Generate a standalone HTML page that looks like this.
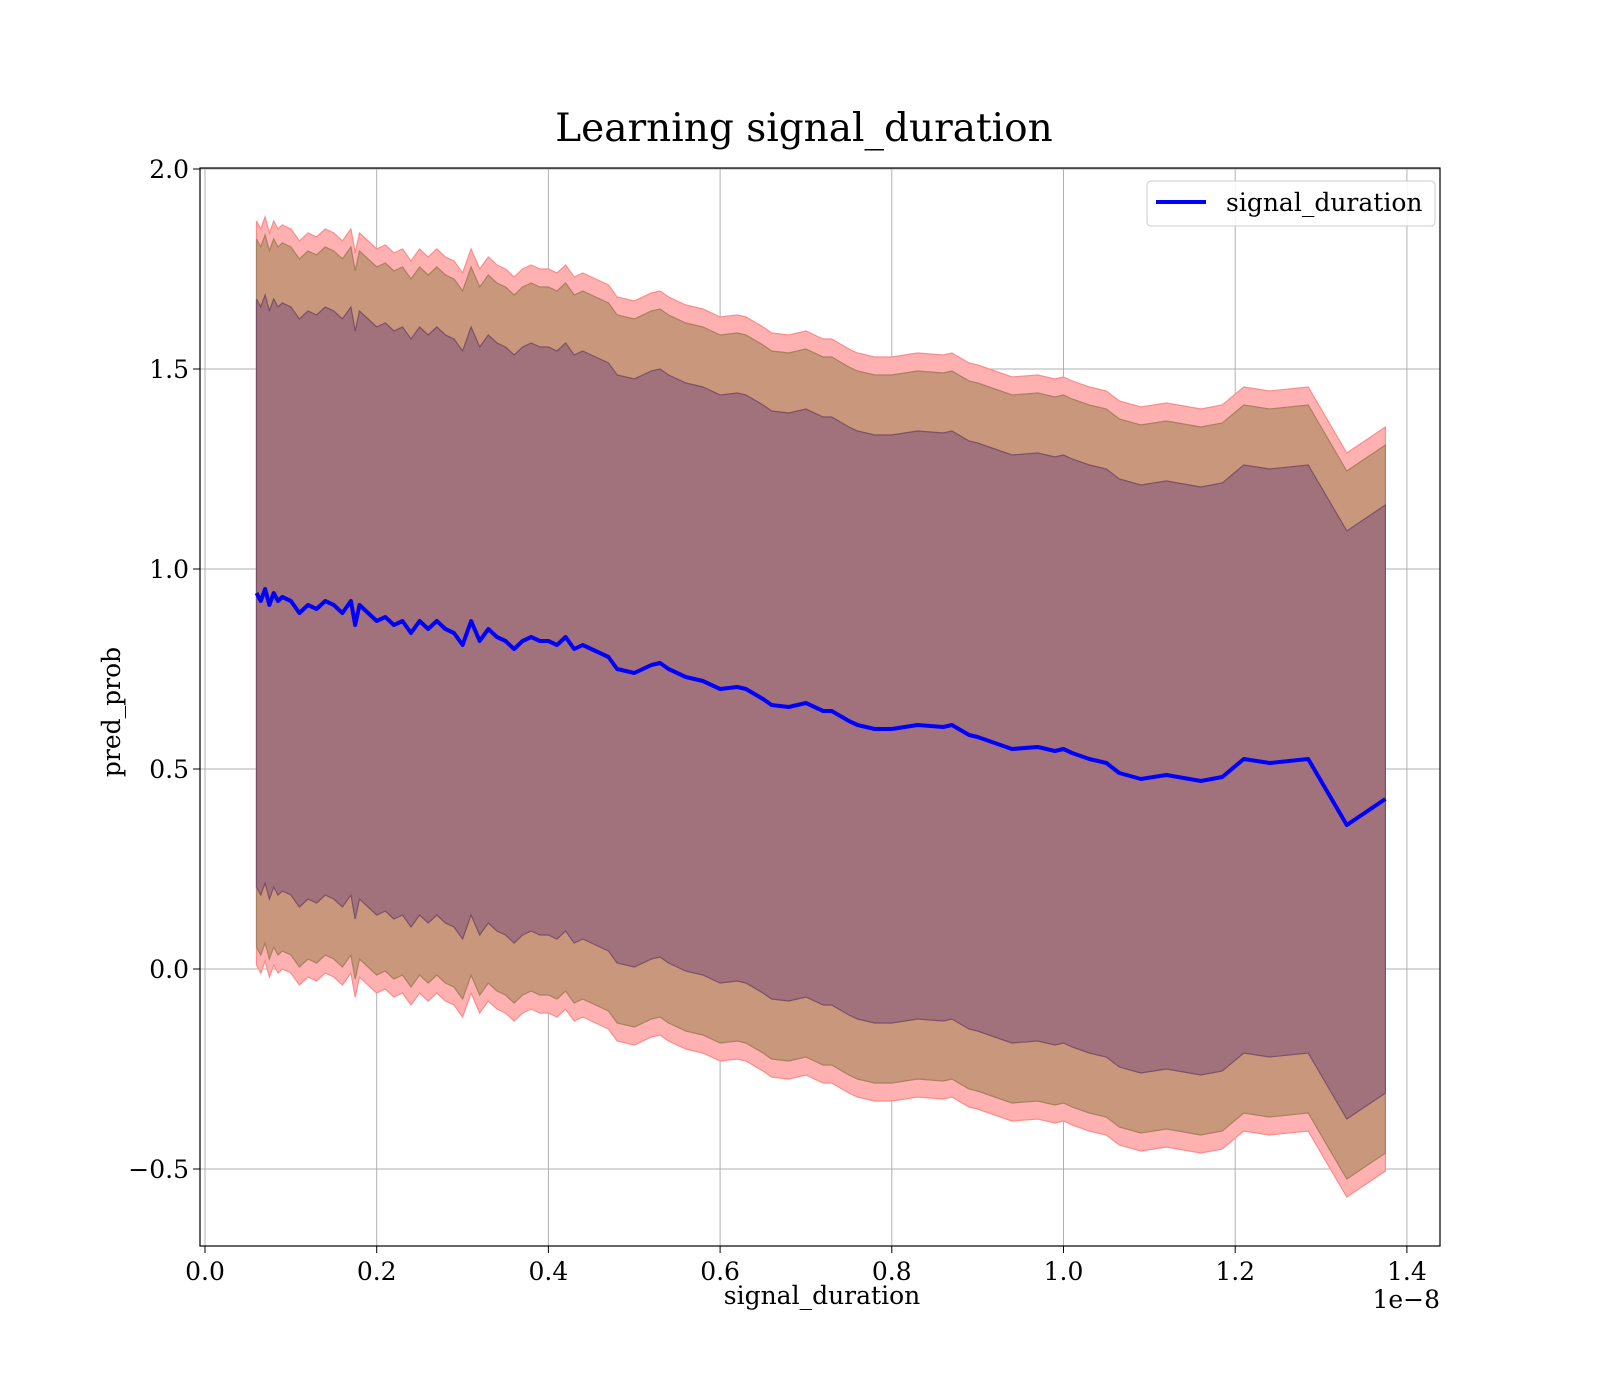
<!DOCTYPE html>
<html><head><meta charset="utf-8"><style>
body{margin:0;background:#fff}
svg{display:block;font-family:"DejaVu Serif","Liberation Serif",serif}
</style></head><body>
<svg id="chart" width="1600" height="1400">
<text x="804" y="141" font-size="39" text-anchor="middle">Learning signal_duration</text>
<g id="grid"></g>
<g id="bands"></g>
<g id="line"></g>
<rect x="200" y="168" width="1240" height="1078" fill="none" stroke="#000" stroke-width="1.2"/>
<g id="ticks"></g>
<text x="822" y="1304" font-size="25" text-anchor="middle">signal_duration</text>
<text x="1440" y="1308" font-size="25" text-anchor="end">1e−8</text>
<text transform="translate(120,712) rotate(-90)" font-size="25" text-anchor="middle">pred_prob</text>
<g>
<rect x="1147" y="181" width="288" height="45" rx="4" fill="#fff" fill-opacity="0.85" stroke="#ccc"/>
<line x1="1156" y1="202" x2="1206" y2="202" stroke="#0000ff" stroke-width="4"/>
<text x="1226" y="211" font-size="25">signal_duration</text>
</g>
</svg>
<script>
const xs=[0.06,0.065,0.07,0.075,0.08,0.085,0.09,0.1,0.11,0.12,0.13,0.14,0.15,0.16,0.17,0.175,0.18,0.19,0.2,0.21,0.22,0.23,0.24,0.25,0.26,0.27,0.28,0.29,0.3,0.31,0.32,0.33,0.34,0.35,0.36,0.37,0.38,0.39,0.4,0.41,0.42,0.43,0.44,0.45,0.46,0.47,0.48,0.5,0.52,0.53,0.54,0.56,0.58,0.6,0.62,0.63,0.65,0.66,0.68,0.7,0.72,0.73,0.75,0.76,0.78,0.8,0.83,0.86,0.87,0.89,0.9,0.92,0.94,0.97,0.99,1.0,1.01,1.03,1.05,1.065,1.09,1.12,1.16,1.185,1.21,1.24,1.285,1.33,1.375];
const means=[0.94,0.92,0.95,0.91,0.94,0.92,0.93,0.92,0.89,0.91,0.90,0.92,0.91,0.89,0.92,0.86,0.91,0.89,0.87,0.88,0.86,0.87,0.84,0.87,0.85,0.87,0.85,0.84,0.81,0.87,0.82,0.85,0.83,0.82,0.80,0.82,0.83,0.82,0.82,0.81,0.83,0.80,0.81,0.80,0.79,0.78,0.75,0.74,0.76,0.765,0.75,0.73,0.72,0.70,0.705,0.70,0.675,0.66,0.655,0.665,0.645,0.645,0.62,0.61,0.60,0.60,0.61,0.605,0.61,0.585,0.58,0.565,0.55,0.555,0.545,0.55,0.54,0.525,0.515,0.49,0.475,0.485,0.47,0.48,0.525,0.515,0.525,0.36,0.425];
const bandHalf=[0.93,0.885,0.735];
const bandColors=["#ffb1b1","#c9977b","#a1727c"];
const bandEdges=["#ff8a8a","#a88060","#7d5068"];
const xTicks=[0,0.2,0.4,0.6,0.8,1.0,1.2,1.4];
const xTickLabels=["0.0","0.2","0.4","0.6","0.8","1.0","1.2","1.4"];
const yTicks=[-0.5,0,0.5,1.0,1.5,2.0];
const yTickLabels=["−0.5","0.0","0.5","1.0","1.5","2.0"];
const NS="http://www.w3.org/2000/svg";
const X=v=>205+v*858.5, Y=v=>169+(2-v)*400;
function mk(tag,attrs,parent){const e=document.createElementNS(NS,tag);for(const k in attrs)e.setAttribute(k,attrs[k]);parent.appendChild(e);return e;}
const grid=document.getElementById('grid'),ticks=document.getElementById('ticks');
xTicks.forEach((t,i)=>{
 const g=mk('line',{x1:X(t),x2:X(t),y1:168,y2:1246,stroke:'#b0b0b0','stroke-width':1},grid);
 
 
 mk('line',{x1:X(t),x2:X(t),y1:1246,y2:1253,stroke:'#000','stroke-width':1},ticks);
 const tx=mk('text',{x:X(t),y:1280,'font-size':25,'text-anchor':'middle'},ticks);
 tx.textContent=xTickLabels[i];
 
 
});
yTicks.forEach((t,i)=>{
 const g=mk('line',{x1:200,x2:1440,y1:Y(t),y2:Y(t),stroke:'#b0b0b0','stroke-width':1},grid);
 
 
 mk('line',{x1:193,x2:200,y1:Y(t),y2:Y(t),stroke:'#000','stroke-width':1},ticks);
 const tx=mk('text',{x:189,y:Y(t)+9,'font-size':25,'text-anchor':'end'},ticks);
 tx.textContent=yTickLabels[i];
 
 
});
const bands=document.getElementById('bands');
bandHalf.forEach((h,b)=>{
 let d='';
 xs.forEach((x,i)=>{d+=(i?'L':'M')+X(x).toFixed(1)+','+Y(means[i]+h).toFixed(1);});
 for(let i=xs.length-1;i>=0;i--)d+='L'+X(xs[i]).toFixed(1)+','+Y(means[i]-h).toFixed(1);
 d+='Z';
 const p=mk('path',{d:d,fill:bandColors[b],stroke:bandEdges[b],'stroke-width':1.2},bands);
 
 
});
let ld='';
xs.forEach((x,i)=>{ld+=(i?'L':'M')+X(x).toFixed(1)+','+Y(means[i]).toFixed(1);});
const ln=mk('path',{d:ld,fill:'none',stroke:'#0000ff','stroke-width':4,'stroke-linejoin':'round'},document.getElementById('line'));


</script>
</body></html>
